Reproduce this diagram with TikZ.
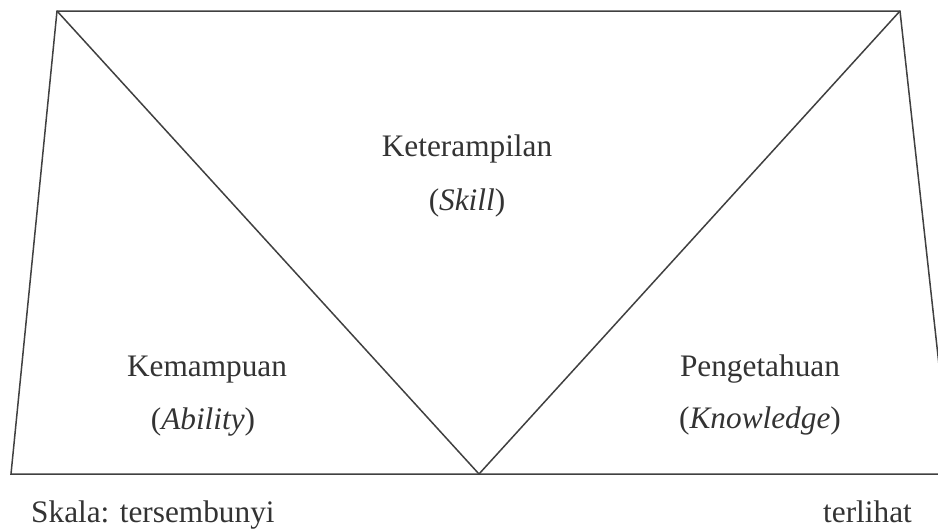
\documentclass[tikz,border=0pt]{standalone}
\usepackage{fontspec}
\setmainfont{Liberation Serif}
\begin{document}
\begin{tikzpicture}[x=1pt,y=-1pt,
  edge/.style={draw=black!75,line width=1.5pt,line join=miter},
  lbl/.style={anchor=base,inner sep=0pt,text=black!80,font=\fontsize{31.3}{36}\selectfont}]
\useasboundingbox (0,0) rectangle (938,528);
\clip (0,0) rectangle (938,528);
\coordinate (tl) at (57,11);
\coordinate (tr) at (900,11);
\coordinate (bl) at (11,474);
\coordinate (br) at (951,474);
\coordinate (v) at (479,474);
\draw[edge] (bl) -- (tl) -- (tr) -- (br) -- cycle;
\draw[edge] (tl) -- (v) -- (tr);
\node[lbl] (skill) at (467,156) {Keterampilan};
\node[lbl] (skilli) at (467,210) {(\textit{Skill})};
\node[lbl] (abil) at (207,376) {Kemampuan};
\node[lbl] (abili) at (203,429) {(\textit{Ability})};
\node[lbl] (know) at (760,376) {Pengetahuan};
\node[lbl] (knowi) at (760,428) {(\textit{Knowledge})};
\node[lbl,anchor=base west] (s1) at (31,522) {Skala: tersembunyi};
\node[lbl,anchor=base west] (s2) at (823,522) {terlihat};
\end{tikzpicture}
\end{document}
